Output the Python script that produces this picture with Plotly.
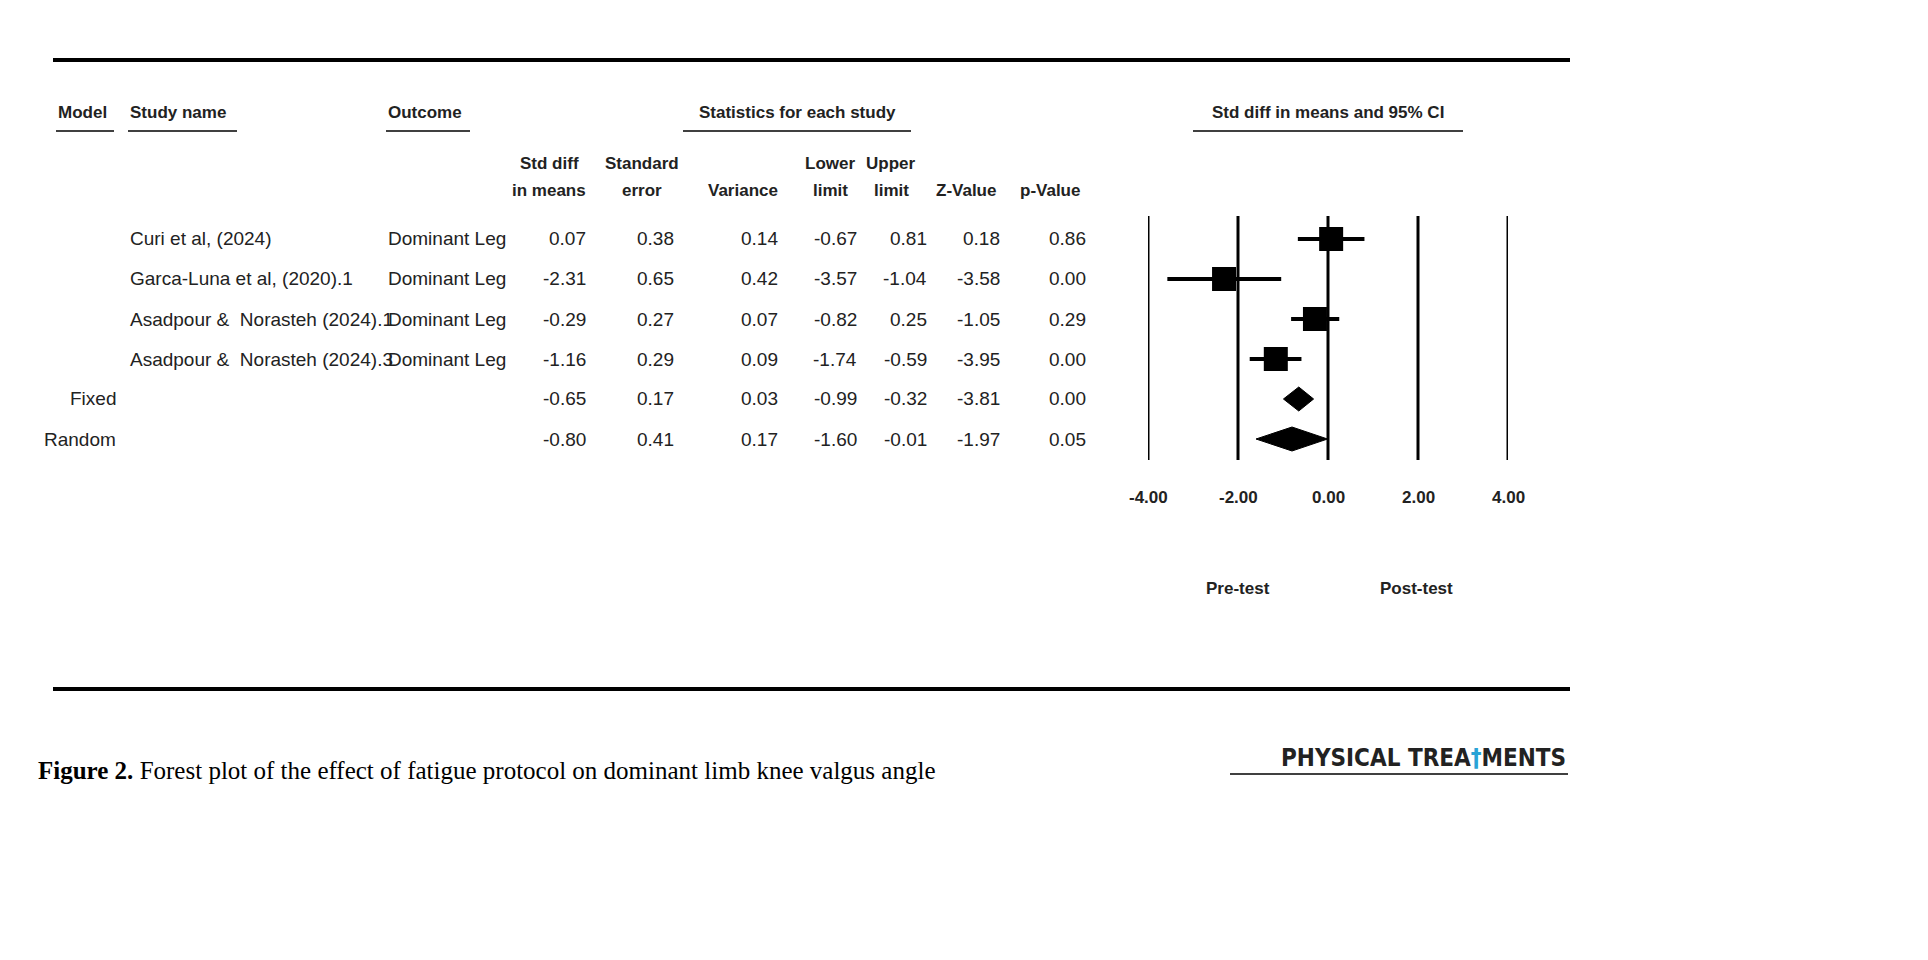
import plotly.graph_objects as go

W, H = 1928, 960

models = ["", "", "", "", "Fixed", "Random"]
studies = ["Curi et al, (2024)", "Garca-Luna et al, (2020).1",
           "Asadpour &  Norasteh (2024).1", "Asadpour &  Norasteh (2024).3", "", ""]
outcomes = ["Dominant Leg"] * 4 + ["", ""]
std_diff = [0.07, -2.31, -0.29, -1.16, -0.65, -0.80]
std_err = [0.38, 0.65, 0.27, 0.29, 0.17, 0.41]
variance = [0.14, 0.42, 0.07, 0.09, 0.03, 0.17]
lower = [-0.67, -3.57, -0.82, -1.74, -0.99, -1.60]
upper = [0.81, -1.04, 0.25, -0.59, -0.32, -0.01]
z_val = [0.18, -3.58, -1.05, -3.95, -3.81, -1.97]
p_val = [0.86, 0.00, 0.29, 0.00, 0.00, 0.05]
x_ticks = [-4, -2, 0, 2, 4]

ROW0, STEP = 231, 40  # pixel of first row, row spacing


def px(x):
    return x / W


def py(y):
    return 1 - y / H


fig = go.Figure()
ann = []
shapes = []

def text(x, y, t, anchor="left", size=19, bold=False, family="Liberation Sans, Arial"):
    ann.append(dict(xref="paper", yref="paper", x=px(x), y=py(y), text=f"<b>{t}</b>" if bold else t,
                    showarrow=False, xanchor=anchor, yanchor="middle",
                    font=dict(size=size, family=family, color="#222")))

def hline(x0, x1, y, w=2):
    shapes.append(dict(type="line", xref="paper", yref="paper", x0=px(x0), x1=px(x1),
                       y0=py(y), y1=py(y), line=dict(color="black", width=w)))

# frame lines
hline(45, 1562, 52, 4)
hline(45, 1562, 681, 4)

# headers
text(48, 104, "Model", bold=True, size=17)
text(120, 104, "Study name", bold=True, size=17)
text(378, 104, "Outcome", bold=True, size=17)
text(789, 104, "Statistics for each study", "center", bold=True, size=17)
text(1320, 104, "Std diff in means and 95% CI", "center", bold=True, size=17)
for a, b in [(48, 106), (120, 229), (378, 462), (675, 903), (1185, 1455)]:
    hline(a, b, 123, 1.5)
sub = [(541, "Std diff", "in means"), (634, "Standard", "error"), (735, "", "Variance"),
       (822, "Lower", "limit"), (883, "Upper", "limit"), (958, "", "Z-Value"), (1042, "", "p-Value")]
for x, l1, l2 in sub:
    if l1:
        text(x, 155, l1, "center", bold=True, size=17)
    text(x, 182, l2, "center", bold=True, size=17)

cols = [(580, std_diff), (668, std_err), (772, variance), (851, lower), (921, upper),
        (994, z_val), (1080, p_val)]
for i in range(len(std_diff)):
    y = ROW0 + i * STEP
    if models[i]:
        text(110, y, models[i], "right")
    if studies[i]:
        text(120, y, studies[i])
    if outcomes[i]:
        text(378, y, outcomes[i])
    for x, arr in cols:
        text(x, y, f"{arr[i]:.2f}", "right")

# forest plot
rows = list(range(len(std_diff)))
for v in x_ticks:
    shapes.append(dict(type="line", xref="x", yref="y", x0=v, x1=v, y0=-0.575, y1=5.525,
                       line=dict(color="black", width=3)))
fig.add_trace(go.Scatter(
    x=std_diff[:4], y=rows[:4], mode="markers",
    marker=dict(symbol="square", size=24, color="black"),
    error_x=dict(type="data", symmetric=False,
                 array=[u - e for u, e in zip(upper[:4], std_diff[:4])],
                 arrayminus=[e - l for e, l in zip(std_diff[:4], lower[:4])],
                 width=0, thickness=4, color="black")))
for i in (4, 5):
    fig.add_trace(go.Scatter(
        x=[lower[i], std_diff[i], upper[i], std_diff[i], lower[i]],
        y=[i, i - 0.3, i, i + 0.3, i], mode="lines", fill="toself",
        fillcolor="black", line=dict(color="black", width=1)))
for v in x_ticks:
    text(1140 + (v + 4) * 45, 490, f"{v:.2f}", "center", bold=True, size=17)
text(1230, 580, "Pre-test", "center", bold=True, size=17)
text(1408, 580, "Post-test", "center", bold=True, size=17)

# caption
ann.append(dict(xref="paper", yref="paper", x=px(28), y=py(762), showarrow=False,
                xanchor="left", yanchor="middle",
                text="<b>Figure 2.</b> Forest plot of the effect of fatigue protocol on dominant limb knee valgus angle",
                font=dict(size=25, family="Liberation Serif, Times New Roman", color="black")))
text(1560, 750, "PHYSICAL TREA<span style='color:#29a3d6'>†</span>MENTS", "right", bold=True, size=24,
     family="DejaVu Sans Condensed, DejaVu Sans")
hline(1222, 1560, 766, 1.5)

y0 = -ROW0 / STEP
fig.update_layout(
    width=W, height=H, margin=dict(l=0, r=0, t=0, b=0),
    paper_bgcolor="white", plot_bgcolor="white", showlegend=False,
    annotations=ann, shapes=shapes,
    xaxis=dict(domain=[px(1140), px(1500)], range=[-4, 4], visible=False),
    yaxis=dict(domain=[0, 1], range=[y0 + H / STEP, y0], visible=False),
)
fig.write_html("out.html")
